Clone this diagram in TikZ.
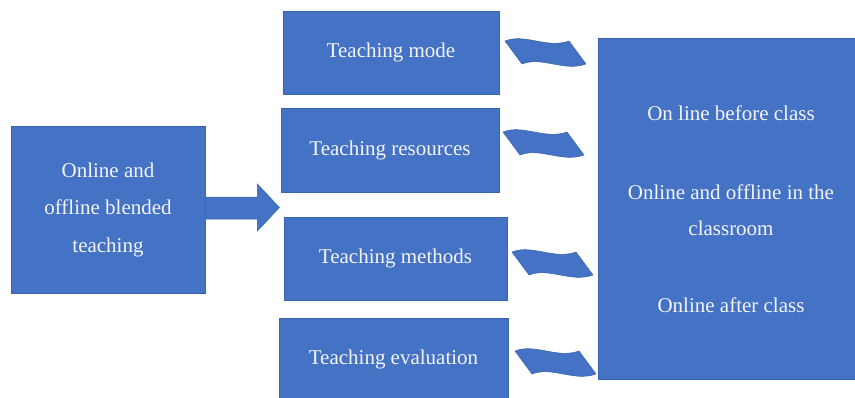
\documentclass[tikz,border=0pt]{standalone}
\usepackage{fontspec}
\setmainfont{Liberation Serif}

\definecolor{boxblue}{HTML}{4472C4}
\definecolor{boxline}{HTML}{3A64AD}
\definecolor{boxtext}{HTML}{F4F4F4}

\tikzset{
  panel/.style={fill=boxblue, draw=boxline, line width=0.8pt, text=boxtext, inner sep=0pt, align=center},
  panel text/.style={text=boxtext, inner sep=0pt, align=center},
  wave/.style={fill=boxblue, draw=boxline, line width=0.5pt},
}

\begin{document}
\begin{tikzpicture}[x=1pt, y=-1pt, font=\fontsize{21}{37.5}\selectfont]
    % Canvas
    \useasboundingbox (0,0) rectangle (855,397);

    % --- LEFT BOX ---
    \node[panel, minimum width=194pt, minimum height=167pt] (blended) at (108,209.5) {Online and\\offline blended\\teaching};

    % --- ASPECTS (middle column) ---
    \node[panel, minimum width=216pt, minimum height=83pt] (mode) at (391,52.5) {Teaching mode};
    \node[panel, minimum width=218pt, minimum height=84pt] (resources) at (390,150) {Teaching resources};
    \node[panel, minimum width=223pt, minimum height=83pt] (methods) at (395.5,258.5) {Teaching methods};
    \node[panel, minimum width=229pt, minimum height=82pt] (evaluation) at (393.5,359) {Teaching evaluation};

    % --- RIGHT BOX ---
    \node[panel, minimum width=266pt, minimum height=341pt] (stages) at (731,208.5) {};
    \node[panel text] (before) at (731,113) {On line before class};
    \node[panel text, font=\fontsize{21}{36}\selectfont] (inclass) at (731,210) {Online and offline in the\\classroom};
    \node[panel text] (after) at (731,305) {Online after class};

    % --- BLOCK ARROW (from the left box) ---
    \filldraw[wave] ([yshift=1.5pt]blended.east) ++(0,-11) -- ++(52,0) -- ++(0,-13)
        -- ++(22,23.5) -- ++(-22,23.5) -- ++(0,-12) -- ++(-52,0) -- cycle;

    % --- WAVES ---
    \foreach \wx/\wy in {505/41, 503/132, 512/252, 515/351} {
        \filldraw[wave] (\wx,\wy) .. controls +(20,-8) and +(-22,8) .. ++(64,0)
            -- ++(17,23) .. controls +(-22,8) and +(20,-8) .. ++(-64,0) -- cycle;
    }
\end{tikzpicture}
\end{document}
